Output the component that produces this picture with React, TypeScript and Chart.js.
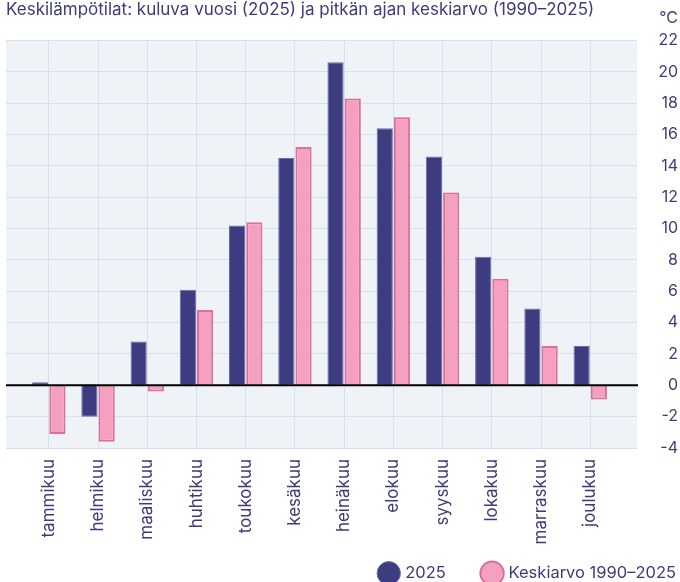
import { useEffect, useRef } from "react";
import { Chart, registerables } from "chart.js";

Chart.register(...registerables);

const titleText =
  "Keskilämpötilat: kuluva vuosi (2025) ja pitkän ajan keskiarvo (1990–2025)";
const unitLabel = "°C";
const months = [
  "tammikuu",
  "helmikuu",
  "maaliskuu",
  "huhtikuu",
  "toukokuu",
  "kesäkuu",
  "heinäkuu",
  "elokuu",
  "syyskuu",
  "lokakuu",
  "marraskuu",
  "joulukuu",
];
const seriesLabels = ["2025", "Keskiarvo 1990–2025"];
const values2025 = [0.2, -2.0, 2.8, 6.1, 10.2, 14.5, 20.6, 16.4, 14.6, 8.2, 4.9, 2.5];
const valuesAvg = [-3.1, -3.6, -0.4, 4.8, 10.4, 15.2, 18.3, 17.1, 12.3, 6.8, 2.5, -0.9];
const yMin = -4;
const yMax = 22;
const yStep = 2;

const FONT = "Inter, 'Noto Sans', sans-serif";
const TEXT = "#3c3c7c";
const NAVY = "#3e3c80";
const PINK = "#f5a0c1";
const PINK_BORDER = "#d8719c";
const AREA_BG = "#eff3f7";
const GRID = "#d6e1f0";

const LEGEND_H = 34;
const X_AXIS_H = 100;

const areaPlugin = {
  id: "areaBg",
  beforeLayout(chart: any) {
    const lg = chart.legend;
    if (lg && !lg.__patched) {
      const f = lg.fit.bind(lg);
      lg.fit = () => {
        f();
        lg.height = LEGEND_H;
      };
      lg.__patched = true;
    }
  },
  afterLayout(chart: any) {
    const lg = chart.legend;
    if (lg) {
      lg.left += 36;
      lg.right += 36;
      lg.top = 527;
      lg.bottom = chart.height;
      lg.height = lg.bottom - lg.top;
    }
  },
  beforeDraw(chart: any) {
    const { ctx, chartArea } = chart;
    ctx.save();
    ctx.fillStyle = AREA_BG;
    ctx.fillRect(chartArea.left, chartArea.top, chartArea.right - chartArea.left, chartArea.bottom - chartArea.top);
    ctx.restore();
  },
  afterDatasetsDraw(chart: any) {
    const { ctx, chartArea } = chart;
    const y = chart.scales.y.getPixelForValue(0);
    ctx.save();
    ctx.strokeStyle = "#000";
    ctx.lineWidth = 2;
    ctx.beginPath();
    ctx.moveTo(chartArea.left, y);
    ctx.lineTo(chartArea.right + 1, y);
    ctx.stroke();
    ctx.restore();
  },
  afterDraw(chart: any) {
    const { ctx } = chart;
    const ys = chart.scales.y;
    ctx.save();
    ctx.font = `16px ${FONT}`;
    ctx.fillStyle = TEXT;
    ctx.textAlign = "right";
    ctx.textBaseline = "middle";
    ctx.fillText(unitLabel, ys.right, 18);
    ctx.restore();
  },
};

export default function App() {
  const ref = useRef<HTMLCanvasElement | null>(null);

  useEffect(() => {
    document.body.style.margin = "0";
    const canvas = ref.current;
    if (!canvas) return;
    const chart = new Chart(canvas, {
      type: "bar",
      data: {
        datasets: [
          {
            label: seriesLabels[0],
            data: values2025.map((v, i) => ({ x: i, y: v })),
            backgroundColor: NAVY,
            borderColor: "#6d6ba3",
            borderWidth: 1,
            categoryPercentage: 0.7,
            barPercentage: 0.94,
          },
          {
            label: seriesLabels[1],
            data: valuesAvg.map((v, i) => ({ x: i, y: v })),
            backgroundColor: PINK,
            borderColor: PINK_BORDER,
            borderWidth: 2,
            categoryPercentage: 0.7,
            barPercentage: 0.94,
          },
        ],
      },
      options: {
        animation: false,
        responsive: false,
        events: [],
        layout: { padding: { left: 6, right: 2, top: 0, bottom: 0 } },
        plugins: {
          title: {
            display: true,
            text: titleText,
            align: "start",
            color: TEXT,
            font: { family: FONT, size: 17, weight: "normal" },
            padding: { top: 0, bottom: 20 },
          },
          legend: {
            position: "bottom",
            align: "end",
            labels: {
              usePointStyle: true,
              pointStyle: "circle",
              color: TEXT,
              font: { family: FONT, size: 16.5 },
              padding: 38,
            },
          },
          tooltip: { enabled: false },
        },
        scales: {
          x: {
            type: "linear",
            min: -0.87,
            max: 11.95,
            bounds: "data",
            offset: false,
            grid: { offset: false, color: GRID, lineWidth: 1, drawTicks: false },
            border: { display: false },
            afterBuildTicks: (s: any) => {
              s.ticks = months.map((_, i) => ({ value: i }));
            },
            afterFit: (s: any) => {
              s.height = X_AXIS_H;
            },
            ticks: {
              autoSkip: false,
              minRotation: 90,
              maxRotation: 90,
              padding: 11,
              color: TEXT,
              font: { family: FONT, size: 17 },
              callback: (v: any) => months[Math.round(Number(v))] ?? "",
            },
          },
          y: {
            position: "right",
            min: yMin,
            max: yMax,
            grid: { color: GRID, lineWidth: 1, drawTicks: false },
            border: { display: false },
            afterFit: (s: any) => {
              s.width = 41;
            },
            ticks: {
              stepSize: yStep,
              crossAlign: "far",
              color: TEXT,
              font: { family: FONT, size: 16 },
            },
          },
        },
      },
      plugins: [areaPlugin],
    } as any);
    return () => chart.destroy();
  }, []);

  return <canvas ref={ref} width={680} height={582} style={{ display: "block" }} />;
}
